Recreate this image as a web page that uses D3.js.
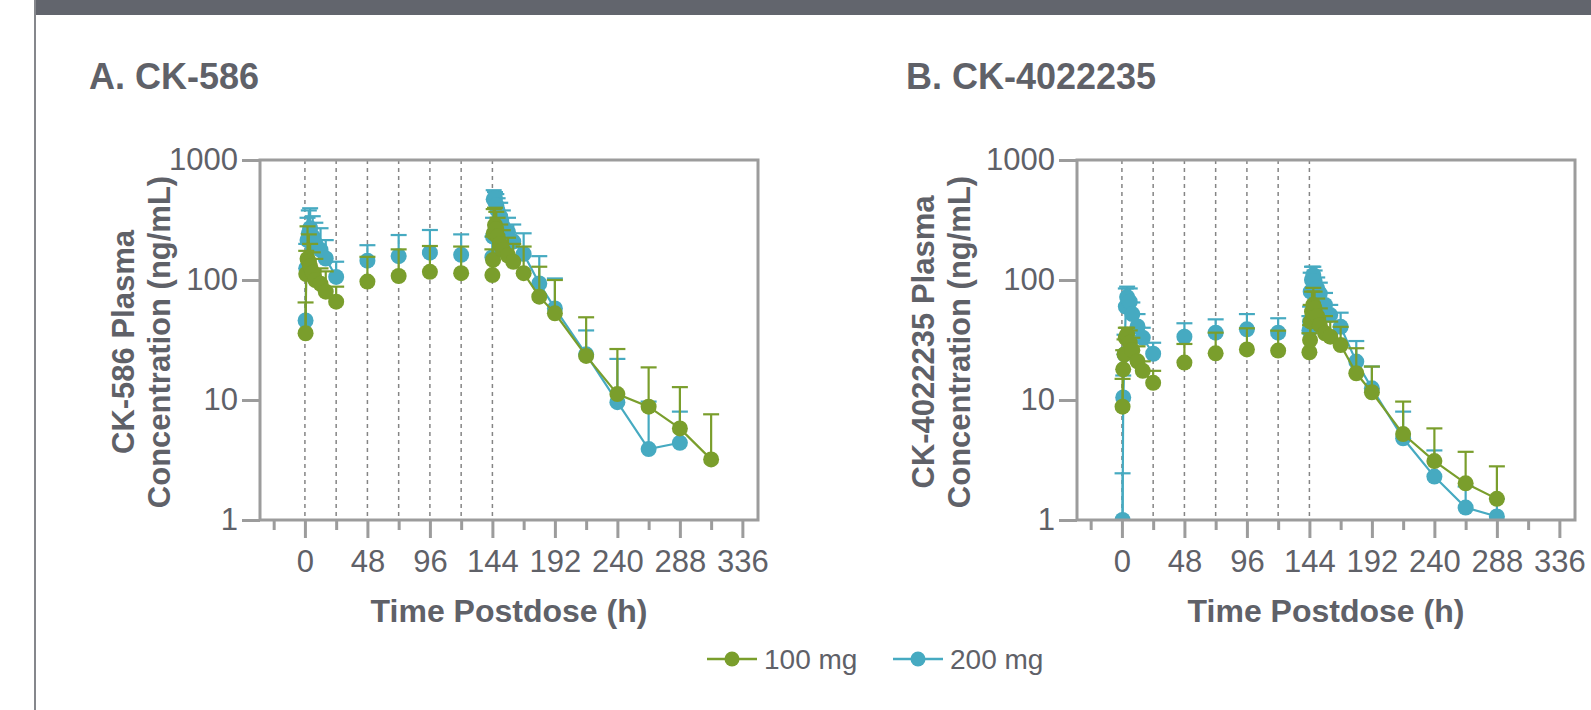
<!DOCTYPE html>
<html>
<head>
<meta charset="utf-8">
<script src="https://cdn.jsdelivr.net/npm/d3@7"></script>
<style>
  body { margin: 0; background: #fff; }
  text { font-family: "Liberation Sans", Arial, sans-serif; fill: #5f6168; }
</style>
</head>
<body>
<script>
// sampling times (h postdose); profile = which connected profile a sample belongs to
var timesA = [0.5, 1, 2, 3, 4, 6, 8, 12, 16, 24, 48, 72, 96, 120, 144,
    144.5, 145, 146, 147, 148, 150, 152, 156, 160, 168, 180, 192, 216, 240, 264, 288, 312];
var profileA = [1, 1, 1, 1, 1, 1, 1, 1, 1, 1, 2, 3, 4, 5, 6,
    6, 6, 6, 6, 6, 6, 6, 6, 6, 6, 6, 6, 6, 6, 6, 6, 6];
var timesB = timesA.slice(0, 31);
var profileB = profileA.slice(0, 31);
var doseTimes = [0, 24, 48, 72, 96, 120, 144];
var majorTicks = [0, 48, 96, 144, 192, 240, 288, 336];
var minorTicks = [-24, 24, 72, 120, 168, 216, 264, 312];
var yTicks = [1, 10, 100, 1000];

// A. CK-586, mean and mean+SD
var ck586_100 = [36, 112, 150, 142, 130, 115, 100, 93, 80, 66, 97, 108, 117, 114, 110,
    147, 245, 287, 265, 230, 200, 178, 160, 142, 114, 72.6, 52.8, 23.3, 11.2, 8.8, 5.8, 3.2];
var ck586_100_up = [65, 175, 280, 240, 200, 170, 150, 125, 118, 88, 156, 180, 192, 190, 180,
    230, 390, 400, 370, 330, 290, 260, 225, 200, 190, 129, 100, 48.9, 26.6, 18.7, 12.8, 7.6];
var ck586_200 = [46, 125, 215, 245, 270, 230, 200, 178, 151, 106, 145, 158, 169, 162, 155,
    230, 470, 480, 420, 380, 337, 280, 250, 209, 165, 93.5, 58, 24, 9.6, 3.9, 4.4, null];
var ck586_200_up = [null, 200, 330, 380, 396, 340, 300, 270, 215, 142, 195, 237, 261, 240, 230,
    330, 560, 540, 520, 480, 440, 380, 330, 290, 245, 158, 103, 38, 22, 9.7, 8.0, null];

// B. CK-4022235, mean and mean+SD
var ck402_100 = [8.8, 18, 24, 33, 35, 30, 26, 21, 17.5, 13.9, 20.5, 24.5, 26.4, 25.8, 25,
    31.6, 45, 54.5, 62, 58, 50, 42, 36, 33.7, 28.7, 16.7, 11.6, 5.2, 3.1, 2.02, 1.5];
var ck402_100_up = [15, 26, 32, 40, 40, 38, 33, 28, 21, 17.5, 29.3, 36.4, 39.6, 37.8, 36,
    42, 62, 80, 86, 80, 70, 58, 50, 45, 40.7, 27, 19, 9.7, 5.8, 3.7, 2.8];
var ck402_200 = [1.0, 10.5, 24, 60, 72, 66, 52, 41, 33, 24.3, 33.7, 36.4, 38.8, 36.4, 38,
    45, 80, 100, 110, 98, 85, 77, 62, 51, 40.7, 20.9, 12.5, 4.8, 2.3, 1.27, 1.07];
var ck402_200_up = [2.45, 16, 35, 85, 88, 85, 65, 52, 40, 30, 43.6, 47, 52, 48, 50,
    60, 115, 129, 129, 120, 105, 95, 78, 62, 53.4, 31, 19, 8.0, 3.8, 1.9, 1.5];

var green = "#7a9e2c";
var blue = "#46aac1";
var axisGray = "#9c9c9c";
var plotTop = 160, plotBottom = 520, plotWidth = 498;

var svg = d3.select("body").append("svg")
    .attr("width", 1591)
    .attr("height", 710);

// header band and left frame line
svg.append("rect").attr("x", 35).attr("y", 0).attr("width", 1556).attr("height", 15).attr("fill", "#62656d");
svg.append("line").attr("x1", 35).attr("x2", 35).attr("y1", 0).attr("y2", 710)
    .attr("stroke", "#85878c").attr("stroke-width", 2);

function drawPanel(p){
    var g = svg.append("g");
    var x = d3.scaleLinear().domain([-34.5, 348]).range([p.left, p.left + plotWidth]);
    var y = d3.scaleLog().domain([1, 1000]).range([plotBottom, plotTop]);

    g.append("text")
        .attr("x", p.titleX).attr("y", 89)
        .attr("font-size", 36).attr("font-weight", "bold")
        .text(p.title);

    g.append("clipPath").attr("id", p.id + "clip")
        .append("rect").attr("x", p.left).attr("y", plotTop)
        .attr("width", plotWidth).attr("height", plotBottom - plotTop);

    // dosing reference lines
    g.selectAll(".dose").data(doseTimes).enter().append("line")
        .attr("x1", d => x(d)).attr("x2", d => x(d))
        .attr("y1", plotTop).attr("y2", plotBottom)
        .attr("stroke", "#858585").attr("stroke-width", 1.5)
        .attr("stroke-dasharray", "4,4");

    var plot = g.append("g").attr("clip-path", "url(#" + p.id + "clip)");
    var line = d3.line().x(d => x(d.t)).y(d => y(d.v));

    p.series.forEach(function(s){
        var pts = p.times.map((t, i) => ({t: t, v: s.values[i], up: s.upper[i], prof: p.profile[i]}))
            .filter(d => d.v != null);

        d3.groups(pts, d => d.prof).forEach(function(grp){
            if(grp[1].length < 2) return;
            plot.append("path").datum(grp[1])
                .attr("fill", "none").attr("stroke", s.color).attr("stroke-width", 2.2)
                .attr("d", line);
        });

        var eb = pts.filter(d => d.up != null);
        plot.selectAll(null).data(eb).enter().append("line")
            .attr("x1", d => x(d.t)).attr("x2", d => x(d.t))
            .attr("y1", d => y(d.v)).attr("y2", d => y(d.up))
            .attr("stroke", s.color).attr("stroke-width", 2.2);
        plot.selectAll(null).data(eb).enter().append("line")
            .attr("x1", d => x(d.t) - 8).attr("x2", d => x(d.t) + 8)
            .attr("y1", d => y(d.up)).attr("y2", d => y(d.up))
            .attr("stroke", s.color).attr("stroke-width", 2.2);

        plot.selectAll(null).data(pts).enter().append("circle")
            .attr("cx", d => x(d.t)).attr("cy", d => y(d.v))
            .attr("r", 8).attr("fill", s.color);
    });

    // axes
    var xMajor = g.append("g").attr("transform", "translate(0," + plotBottom + ")")
        .call(d3.axisBottom(x).tickValues(majorTicks).tickSize(18).tickPadding(12).tickFormat(d3.format("d")));
    var xMinor = g.append("g").attr("transform", "translate(0," + plotBottom + ")")
        .call(d3.axisBottom(x).tickValues(minorTicks).tickSize(10).tickFormat(""));
    var yAxis = g.append("g").attr("transform", "translate(" + p.left + ",0)")
        .call(d3.axisLeft(y).tickValues(yTicks).tickSize(18).tickPadding(4).tickFormat(d3.format("d")));

    [xMajor, xMinor, yAxis].forEach(function(a){
        a.select(".domain").remove();
        a.selectAll(".tick line").attr("stroke", axisGray).attr("stroke-width", 3);
        a.selectAll(".tick text").attr("font-size", 31).attr("fill", "#5f6168")
            .style("font-family", "'Liberation Sans', Arial, sans-serif");
    });

    g.append("rect")
        .attr("x", p.left).attr("y", plotTop)
        .attr("width", plotWidth).attr("height", plotBottom - plotTop)
        .attr("fill", "none").attr("stroke", axisGray).attr("stroke-width", 3);

    g.append("text")
        .attr("x", p.left + plotWidth / 2).attr("y", 622)
        .attr("text-anchor", "middle")
        .attr("font-size", 32).attr("font-weight", "bold")
        .text("Time Postdose (h)");

    var yt = g.append("text")
        .attr("transform", "translate(" + p.yTitleX + ",342) rotate(-90)")
        .attr("text-anchor", "middle")
        .attr("font-size", 31).attr("font-weight", "bold");
    yt.append("tspan").attr("x", 0).attr("y", 0).text(p.yTitle);
    yt.append("tspan").attr("x", 0).attr("y", 36).text("Concentration (ng/mL)");
}

drawPanel({
    id: "a", left: 260, titleX: 89, title: "A. CK-586",
    yTitle: "CK-586 Plasma", yTitleX: 134, times: timesA, profile: profileA,
    series: [
        {color: blue, values: ck586_200, upper: ck586_200_up},
        {color: green, values: ck586_100, upper: ck586_100_up}
    ]
});

drawPanel({
    id: "b", left: 1077, titleX: 906, title: "B. CK-4022235",
    yTitle: "CK-4022235 Plasma", yTitleX: 934, times: timesB, profile: profileB,
    series: [
        {color: blue, values: ck402_200, upper: ck402_200_up},
        {color: green, values: ck402_100, upper: ck402_100_up}
    ]
});

// legend
var legendItems = [
    {label: "100 mg", color: green, x: 707},
    {label: "200 mg", color: blue, x: 893}
];
var legend = svg.append("g");
legendItems.forEach(function(d){
    legend.append("line").attr("x1", d.x).attr("x2", d.x + 50)
        .attr("y1", 659).attr("y2", 659)
        .attr("stroke", d.color).attr("stroke-width", 2.5);
    legend.append("circle").attr("cx", d.x + 25).attr("cy", 659).attr("r", 7.5).attr("fill", d.color);
    legend.append("text").attr("x", d.x + 57).attr("y", 669)
        .attr("font-size", 28).text(d.label);
});
</script>
</body>
</html>
